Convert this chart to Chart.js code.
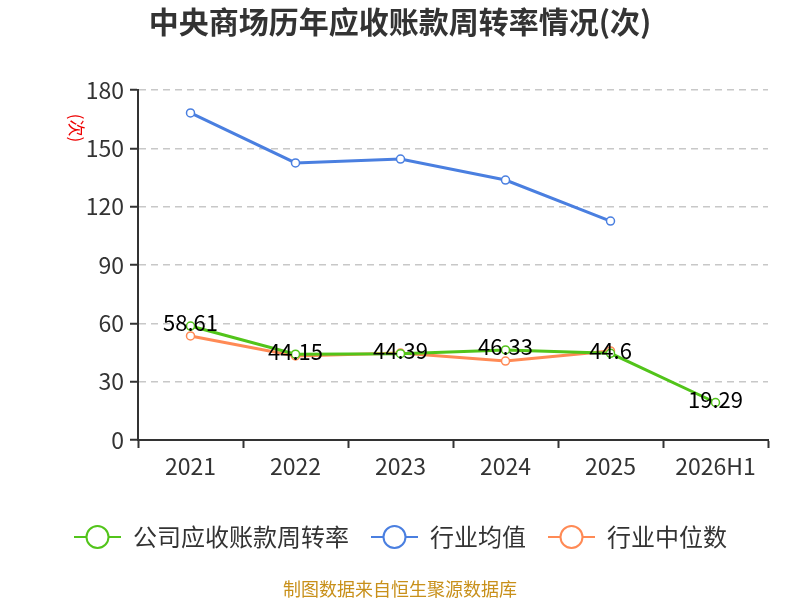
<!DOCTYPE html>
<html lang="zh">
<head>
    <meta charset="UTF-8">
    <title>中央商场历年应收账款周转率情况(次)</title>
    <script src="https://cdn.jsdelivr.net/npm/chart.js"></script>
    <style>
        html, body { margin: 0; padding: 0; background: #fff; }
        #wrap { width: 800px; height: 600px; }
    </style>
</head>
<body>
    <div id="wrap"><canvas id="chart" width="800" height="600"></canvas></div>
    <script>
        // Dữ liệu
        const years = ['2021', '2022', '2023', '2024', '2025', '2026H1'];
        const companyTurnover = [58.61, 44.15, 44.39, 46.33, 44.6, 19.29];
        const industryAvg = [168.2, 142.5, 144.5, 133.7, 112.6, null];
        const industryMedian = [53.5, 43.2, 44.7, 40.6, 45.8, null];
        const seriesNames = ['公司应收账款周转率', '行业均值', '行业中位数'];
        const seriesColors = ['#52c41a', '#4a7fe0', '#ff8a55'];

        const FONT = '"Noto Sans CJK SC", "Noto Sans", sans-serif';

        // Vẽ tiêu đề, nhãn dữ liệu, chú thích và nguồn
        const decorPlugin = {
            id: 'decor',
            afterDatasetsDraw(chart) {
                const ctx = chart.ctx;
                const meta = chart.getDatasetMeta(0);
                ctx.save();
                ctx.fillStyle = '#000';
                ctx.font = '22px ' + FONT;
                ctx.textAlign = 'center';
                ctx.textBaseline = 'middle';
                meta.data.forEach((pt, i) => {
                    ctx.fillText(String(companyTurnover[i]), pt.x, pt.y - 3);
                });
                ctx.restore();
            },
            afterDraw(chart) {
                const ctx = chart.ctx;
                ctx.save();
                // tiêu đề
                ctx.fillStyle = '#333';
                ctx.font = 'bold 30px ' + FONT;
                ctx.textAlign = 'center';
                ctx.textBaseline = 'middle';
                ctx.fillText('中央商场历年应收账款周转率情况(次)', 400, 22);

                // đơn vị trục y
                ctx.save();
                ctx.translate(76, 128);
                ctx.rotate(Math.PI / 2);
                ctx.fillStyle = '#e00';
                ctx.font = '17px ' + FONT;
                ctx.fillText('(次)', 0, 0);
                ctx.restore();

                // chú thích
                ctx.font = '24px ' + FONT;
                ctx.textAlign = 'left';
                const items = [
                    { x: 74, text: seriesNames[0], color: seriesColors[0] },
                    { x: 371, text: seriesNames[1], color: seriesColors[1] },
                    { x: 548, text: seriesNames[2], color: seriesColors[2] }
                ];
                const ly = 537;
                items.forEach(it => {
                    ctx.strokeStyle = it.color;
                    ctx.lineWidth = 2;
                    ctx.beginPath();
                    ctx.moveTo(it.x, ly);
                    ctx.lineTo(it.x + 47, ly);
                    ctx.stroke();
                    ctx.beginPath();
                    ctx.arc(it.x + 23.5, ly, 11, 0, Math.PI * 2);
                    ctx.fillStyle = '#fff';
                    ctx.fill();
                    ctx.stroke();
                    ctx.fillStyle = '#333';
                    ctx.fillText(it.text, it.x + 59, ly);
                });

                // nguồn
                ctx.fillStyle = '#c8901a';
                ctx.font = '18px ' + FONT;
                ctx.textAlign = 'center';
                ctx.fillText('制图数据来自恒生聚源数据库', 400, 589);
                ctx.restore();
            }
        };

        function lineSet(label, data, color) {
            return {
                label: label,
                data: data,
                borderColor: color,
                backgroundColor: '#fff',
                borderWidth: 3,
                pointRadius: 4,
                pointBorderWidth: 1.5,
                pointBorderColor: color,
                pointBackgroundColor: '#fff',
                tension: 0,
                spanGaps: false
            };
        }

        const chart = new Chart(document.getElementById('chart'), {
            type: 'line',
            data: {
                labels: years,
                datasets: [
                    lineSet(seriesNames[0], companyTurnover, seriesColors[0]),
                    lineSet(seriesNames[1], industryAvg, seriesColors[1]),
                    lineSet(seriesNames[2], industryMedian, seriesColors[2])
                ]
            },
            options: {
                responsive: false,
                animation: false,
                devicePixelRatio: 1,
                layout: { padding: { top: 90, right: 32, bottom: 109, left: 0 } },
                plugins: {
                    legend: { display: false },
                    title: { display: false },
                    tooltip: { enabled: false }
                },
                scales: {
                    x: {
                        offset: true,
                        afterFit: s => { s.height = 51; },
                        grid: {
                            offset: true,
                            drawOnChartArea: false,
                            drawTicks: true,
                            tickLength: 8,
                            tickColor: '#333',
                            tickWidth: 2
                        },
                        border: { color: '#333', width: 2 },
                        ticks: {
                            color: '#333',
                            padding: 4,
                            font: { size: 23, family: FONT }
                        }
                    },
                    y: {
                        min: 0,
                        max: 180,
                        afterFit: s => { s.width = 138; },
                        ticks: {
                            stepSize: 30,
                            color: '#333',
                            padding: 6,
                            font: { size: 23, family: FONT }
                        },
                        grid: {
                            color: ctx => ctx.tick && ctx.tick.value === 0 ? 'rgba(0,0,0,0)' : '#c8c8c8',
                            lineWidth: 1.5,
                            drawTicks: true,
                            tickLength: 8,
                            tickColor: '#333',
                            tickWidth: 2,
                            tickBorderDash: []
                        },
                        border: { color: '#333', width: 2, dash: [7, 5] }
                    }
                }
            },
            plugins: [decorPlugin]
        });
    </script>
</body>
</html>
